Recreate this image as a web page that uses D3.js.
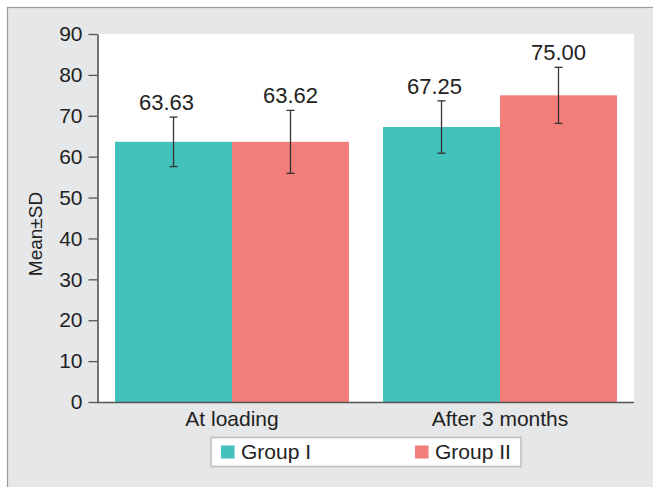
<!DOCTYPE html>
<html>
<head>
<meta charset="utf-8">
<script src="https://cdn.jsdelivr.net/npm/d3@7"></script>
<style>
  html, body { margin: 0; padding: 0; background: #ffffff; }
  svg { display: block; }
  text { font-family: "Liberation Sans", Arial, sans-serif; fill: #222; }
</style>
</head>
<body>
<svg id="chart" width="653" height="487"></svg>
<script>
const categories = ["At loading", "After 3 months"];
const seriesNames = ["Group I", "Group II"];
const group1Means = [63.63, 67.25];
const group2Means = [63.62, 75.00];
const group1SD = [6.05, 6.4];
const group2SD = [7.7, 6.85];
const yTicks = [0, 10, 20, 30, 40, 50, 60, 70, 80, 90];
const colors = ["#42C0BC", "#F27D79"];

const svg = d3.select("#chart");
const m = { left: 98, right: 634, top: 34, bottom: 402 };

// outer panel
svg.append("rect").attr("x", 7.5).attr("y", 7.5).attr("width", 700).attr("height", 600)
  .attr("fill", "#E6E7E9").attr("stroke", "#9a9a9a").attr("stroke-width", 1.2);

// plotting area
svg.append("rect").attr("x", m.left).attr("y", m.top)
  .attr("width", m.right - m.left).attr("height", m.bottom - m.top).attr("fill", "#ffffff");

const y = d3.scaleLinear().domain([0, 90]).range([m.bottom, m.top]);
const x0 = d3.scaleBand().domain(categories).range([m.left, m.right])
  .paddingInner(0.127).paddingOuter(0.0635);
const x1 = d3.scaleBand().domain(seriesNames).range([0, x0.bandwidth()]).padding(0);

const data = categories.map((c, i) => ({
  cat: c,
  vals: [
    { s: seriesNames[0], v: group1Means[i], sd: group1SD[i], c: colors[0], dx: -7 },
    { s: seriesNames[1], v: group2Means[i], sd: group2SD[i], c: colors[1], dx: 0 }
  ]
}));

const g = svg.append("g");
const groups = g.selectAll("g.grp").data(data).enter().append("g")
  .attr("transform", d => `translate(${x0(d.cat)},0)`);

groups.selectAll("rect").data(d => d.vals).enter().append("rect")
  .attr("x", d => x1(d.s)).attr("width", x1.bandwidth())
  .attr("y", d => y(d.v)).attr("height", d => y(0) - y(d.v))
  .attr("fill", d => d.c);

// error bars
const eb = groups.selectAll("g.eb").data(d => d.vals).enter().append("g")
  .attr("stroke", "#333").attr("stroke-width", 1.3);
const cx = d => x1(d.s) + x1.bandwidth() / 2;
eb.append("line").attr("x1", cx).attr("x2", cx)
  .attr("y1", d => y(d.v + d.sd)).attr("y2", d => y(d.v - d.sd));
eb.append("line").attr("x1", d => cx(d) - 4).attr("x2", d => cx(d) + 4)
  .attr("y1", d => y(d.v + d.sd)).attr("y2", d => y(d.v + d.sd));
eb.append("line").attr("x1", d => cx(d) - 4).attr("x2", d => cx(d) + 4)
  .attr("y1", d => y(d.v - d.sd)).attr("y2", d => y(d.v - d.sd));

// value labels
groups.selectAll("text.val").data(d => d.vals).enter().append("text")
  .attr("x", d => cx(d) + d.dx).attr("y", d => y(d.v + d.sd) - 7)
  .attr("text-anchor", "middle").attr("font-size", 22)
  .text(d => d.v.toFixed(2));

// y axis
const yAxis = svg.append("g").attr("transform", `translate(${m.left - 0.5},0)`)
  .call(d3.axisLeft(y).tickValues(yTicks).tickSize(9).tickPadding(6).tickSizeOuter(0));
yAxis.select(".domain").attr("stroke", "#555").attr("stroke-width", 1.6);
yAxis.selectAll(".tick line").attr("stroke", "#555").attr("stroke-width", 1.3);
yAxis.selectAll(".tick text").attr("font-size", 21).attr("fill", "#222")
  .attr("font-family", "Liberation Sans, Arial, sans-serif");

// x axis
const xAxis = svg.append("g").attr("transform", `translate(0,${m.bottom + 0.5})`)
  .call(d3.axisBottom(x0).tickSize(0).tickPadding(9).tickSizeOuter(0));
xAxis.select(".domain").attr("stroke", "#555").attr("stroke-width", 1.6)
  .attr("d", `M${m.left - 1},0H${m.right}`);
xAxis.selectAll(".tick text").attr("font-size", 21).attr("fill", "#222")
  .attr("font-family", "Liberation Sans, Arial, sans-serif");

// y axis title
svg.append("text").attr("transform", "translate(42,234) rotate(-90)")
  .attr("text-anchor", "middle").attr("font-size", 19).text("Mean±SD");

// legend
const lg = svg.append("g");
lg.append("rect").attr("x", 211).attr("y", 437.5).attr("width", 310).attr("height", 29)
  .attr("fill", "#fff").attr("stroke", "#bdbdbd").attr("stroke-width", 1.5);
const legX = [221, 415];
seriesNames.forEach((s, i) => {
  lg.append("rect").attr("x", legX[i]).attr("y", 445.5).attr("width", 13.5).attr("height", 13)
    .attr("fill", colors[i]);
  lg.append("text").attr("x", legX[i] + 20).attr("y", 459).attr("font-size", 21).text(s);
});
</script>
</body>
</html>
